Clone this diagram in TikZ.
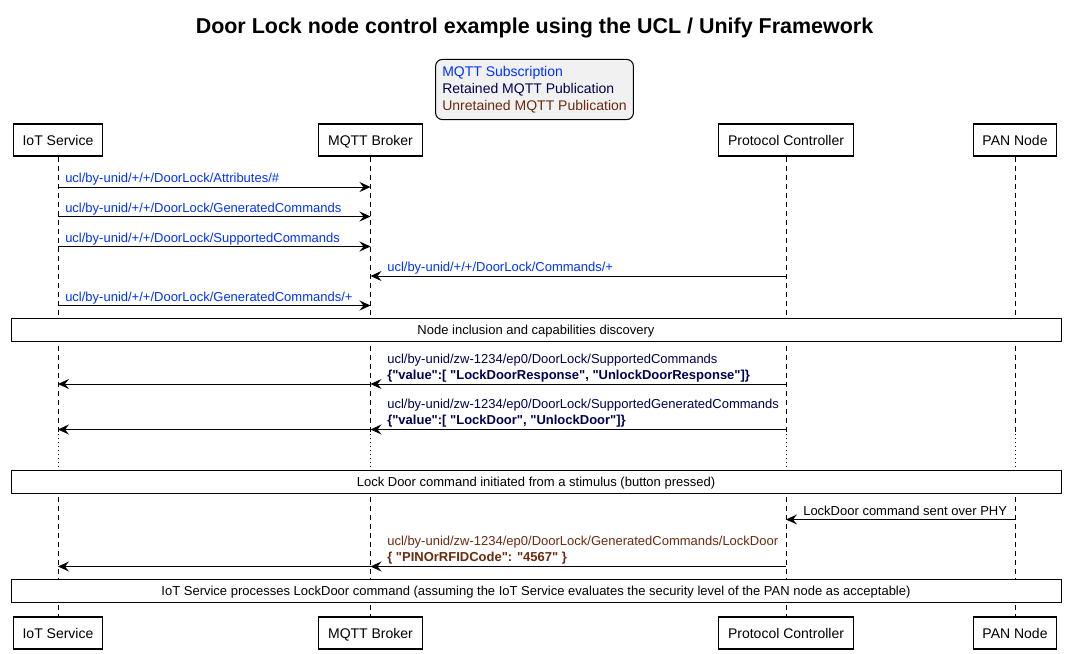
\documentclass[tikz,border=0pt]{standalone}
\usepackage{fontspec}
\setmainfont{Liberation Sans}[Ligatures=TeXOff]
\usepackage{xcolor}
\usetikzlibrary{arrows.meta,positioning}
\definecolor{subblue}{HTML}{0033FF}
\definecolor{retnavy}{HTML}{000050}
\definecolor{unretbrown}{HTML}{6B2A0E}
\definecolor{legendgray}{HTML}{F1F1F1}
\tikzstyle{participant}=[draw, fill=white, line width=0.85pt, inner xsep=6.9pt, minimum height=24pt, text height=7.5pt, text depth=0pt, font=\fontsize{10.5pt}{12pt}\selectfont]
\tikzstyle{lifeline}=[line width=0.75pt, dash pattern=on 3.75pt off 3pt]
\tikzstyle{delayline}=[line width=0.75pt, dash pattern=on 0.75pt off 2.25pt]
\tikzstyle{msg}=[line width=0.75pt, -{Stealth[length=8.25pt,width=7.5pt,inset=3pt]}]
\tikzstyle{msgtext}=[inner sep=0pt, anchor=base west, font=\fontsize{9.75pt}{12pt}\selectfont]
\tikzstyle{divider}=[draw, fill=white, line width=0.75pt, minimum width=787.5pt, minimum height=17.25pt, inner sep=0pt, text height=7pt, text depth=0pt, font=\fontsize{9.75pt}{12pt}\selectfont]
\tikzstyle{legendbox}=[draw, fill=legendgray, line width=0.75pt, rounded corners=5pt, align=left, inner xsep=5pt, inner ysep=5pt, font=\fontsize{10.5pt}{12.75pt}\selectfont]

\begin{document}
\begin{tikzpicture}[x=0.75pt,y=-0.75pt]
		\useasboundingbox (0,0) rectangle (1066,653);
		\node[font=\bfseries\fontsize{16.1pt}{19pt}\selectfont] (title) at (534.5,27.5) {Door Lock node control example using the UCL / Unify Framework};
		\node[legendbox] (legend) at (534.5,89.5) {\textcolor{subblue}{MQTT Subscription}\\\textcolor{retnavy}{Retained MQTT Publication}\\\textcolor{unretbrown}{Unretained MQTT Publication}};
		% participants, top and bottom
		\node[participant] (iot) at (58,140) {IoT Service};
		\node[participant] (broker) at (370.5,140) {MQTT Broker};
		\node[participant] (pc) at (786,140) {Protocol Controller};
		\node[participant] (pan) at (1015,140) {PAN Node};
		\node[participant] (iotb) at (58,633) {IoT Service};
		\node[participant] (brokerb) at (370.5,633) {MQTT Broker};
		\node[participant] (pcb) at (786,633) {Protocol Controller};
		\node[participant] (panb) at (1015,633) {PAN Node};
		% message rows
		\coordinate (m1) at (0,187);
		\coordinate (m2) at (0,216.5);
		\coordinate (m3) at (0,246.5);
		\coordinate (m4) at (0,276);
		\coordinate (m5) at (0,305.5);
		\coordinate (m6) at (0,384);
		\coordinate (m7) at (0,429.5);
		\coordinate (d1) at (0,434);
		\coordinate (d2) at (0,470);
		\coordinate (m8) at (0,519.5);
		\coordinate (m9) at (0,566.5);
		% lifelines
		\draw[lifeline] (iot.south) -- (iot |- d1) (iot |- d2) -- (iotb.north);
		\draw[lifeline] (broker.south) -- (broker |- d1) (broker |- d2) -- (brokerb.north);
		\draw[lifeline] (pc.south) -- (pc |- d1) (pc |- d2) -- (pcb.north);
		\draw[lifeline] (pan.south) -- (pan |- d1) (pan |- d2) -- (panb.north);
		\draw[delayline] (iot |- d1) -- (iot |- d2);
		\draw[delayline] (broker |- d1) -- (broker |- d2);
		\draw[delayline] (pc |- d1) -- (pc |- d2);
		\draw[delayline] (pan |- d1) -- (pan |- d2);
		% subscriptions
		\draw[msg] (iot |- m1) -- (broker |- m1);
		\node[msgtext, text=subblue] (t1) at (65,182.5) {ucl/by-unid/+/+/DoorLock/Attributes/\#};
		\draw[msg] (iot |- m2) -- (broker |- m2);
		\node[msgtext, text=subblue] (t2) at (65,212) {ucl/by-unid/+/+/DoorLock/GeneratedCommands};
		\draw[msg] (iot |- m3) -- (broker |- m3);
		\node[msgtext, text=subblue] (t3) at (65,242) {ucl/by-unid/+/+/DoorLock/SupportedCommands};
		\draw[msg] (pc |- m4) -- (broker |- m4);
		\node[msgtext, text=subblue] (t4) at (387,271.5) {ucl/by-unid/+/+/DoorLock/Commands/+};
		\draw[msg] (iot |- m5) -- (broker |- m5);
		\node[msgtext, text=subblue] (t5) at (65,301) {ucl/by-unid/+/+/DoorLock/GeneratedCommands/+};
		\node[divider] (sep1) at (536,329.5) {Node inclusion and capabilities discovery};
		% retained publications
		\draw[msg] (pc |- m6) -- (broker |- m6);
		\draw[msg] (broker |- m6) -- (iot |- m6);
		\node[msgtext, text=retnavy] (t6) at (387,363) {ucl/by-unid/zw-1234/ep0/DoorLock/SupportedCommands};
		\node[msgtext, text=retnavy, font=\bfseries\fontsize{9.75pt}{12pt}\selectfont] (p6) at ([yshift=-12pt]t6.base west) {\{"value":[ "LockDoorResponse", "UnlockDoorResponse"]\}};
		\draw[msg] (pc |- m7) -- (broker |- m7);
		\draw[msg] (broker |- m7) -- (iot |- m7);
		\node[msgtext, text=retnavy] (t7) at (387,408.5) {ucl/by-unid/zw-1234/ep0/DoorLock/SupportedGeneratedCommands};
		\node[msgtext, text=retnavy, font=\bfseries\fontsize{9.75pt}{12pt}\selectfont] (p7) at ([yshift=-12pt]t7.base west) {\{"value":[ "LockDoor", "UnlockDoor"]\}};
		\node[divider] (sep2) at (536,481.5) {Lock Door command initiated from a stimulus (button pressed)};
		% stimulus
		\draw[msg] (pan |- m8) -- (pc |- m8);
		\node[msgtext] (t8) at (803,515) {LockDoor command sent over PHY};
		\draw[msg] (pc |- m9) -- (broker |- m9);
		\draw[msg] (broker |- m9) -- (iot |- m9);
		\node[msgtext, text=unretbrown] (t9) at (387,545.5) {ucl/by-unid/zw-1234/ep0/DoorLock/GeneratedCommands/LockDoor};
		\node[msgtext, text=unretbrown, font=\bfseries\fontsize{9.75pt}{12pt}\selectfont] (p9) at ([yshift=-12pt]t9.base west) {\{ "PINOrRFIDCode": "4567" \}};
		\node[divider] (sep3) at (536,590.5) {IoT Service processes LockDoor command (assuming the IoT Service evaluates the security level of the PAN node as acceptable)};
	\end{tikzpicture}
\end{document}
